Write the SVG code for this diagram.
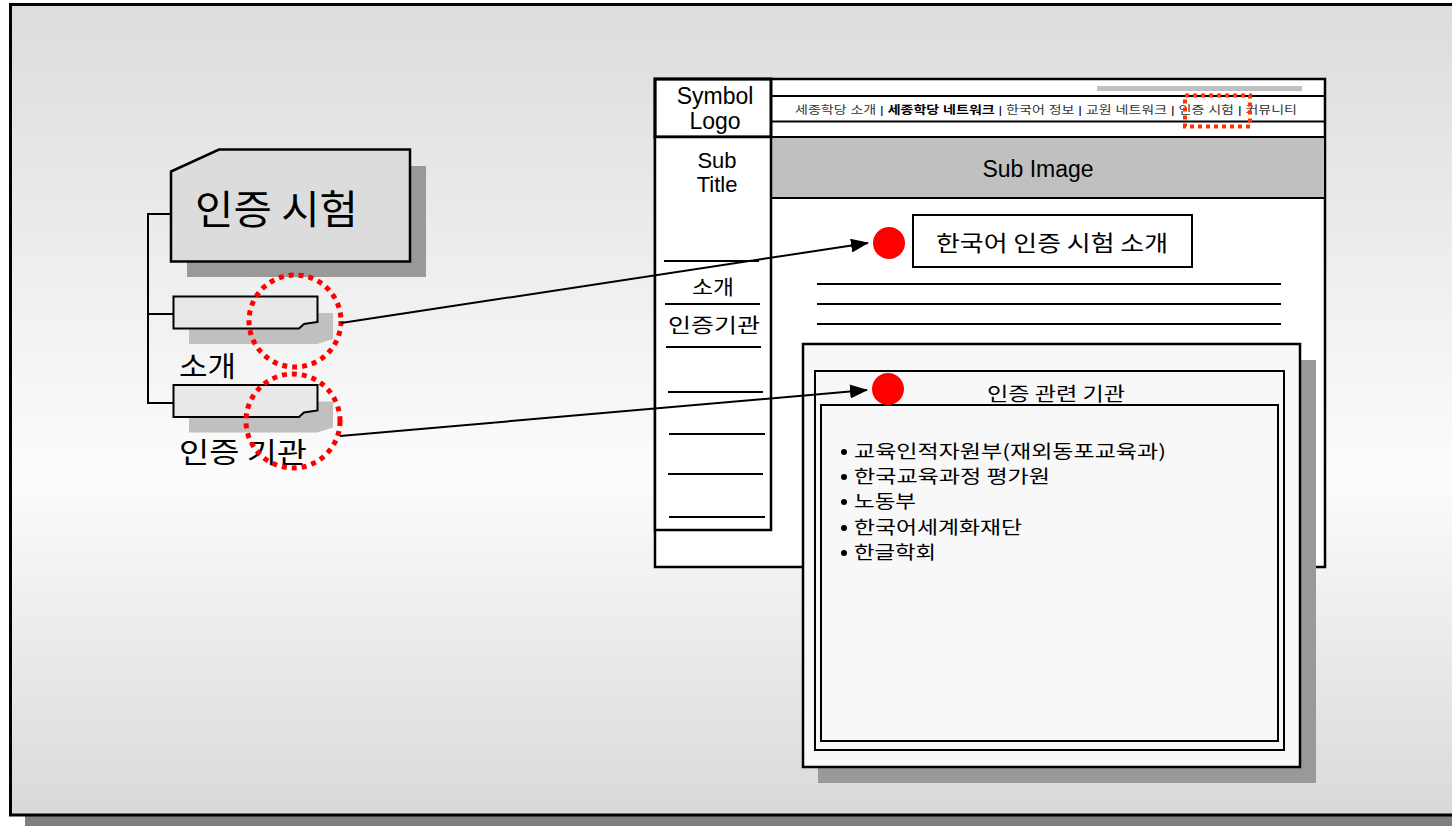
<svg xmlns="http://www.w3.org/2000/svg" width="1452" height="826" viewBox="0 0 1452 826">
<defs>
<linearGradient id="bg" x1="0" y1="4" x2="0" y2="815" gradientUnits="userSpaceOnUse">
<stop offset="0" stop-color="#dcdcdc"/>
<stop offset="0.58" stop-color="#fcfcfc"/>
<stop offset="1" stop-color="#d9d9d9"/>
</linearGradient>
<marker id="arr" markerWidth="18" markerHeight="14" refX="17" refY="7" orient="auto" markerUnits="userSpaceOnUse">
<path d="M0,0 L18,7 L0,14 Z" fill="#000"/>
</marker>
<style>
text{font-family:"Liberation Sans","Noto Sans CJK KR",sans-serif;fill:#000}
.k{font-family:"Noto Sans CJK KR","Liberation Sans",sans-serif}
.ln{stroke:#000;stroke-width:2;fill:none}
.box{fill:#fff;stroke:#000;stroke-width:2.5}
.dot{fill:none;stroke:#ff0000;stroke-width:5;stroke-dasharray:5 5}
.rd{fill:#ff0000}
.con{stroke:#000;stroke-width:2;fill:none;marker-end:url(#arr)}
</style>
</defs>
<rect width="1452" height="826" fill="#fff"/>
<g id="frame">
<rect x="25" y="815" width="1440" height="11" fill="#808080"/>
<rect x="10.5" y="4.5" width="1460" height="810.5" fill="url(#bg)" stroke="#000" stroke-width="3"/>
</g>
<g id="tree-lines">
<path class="ln" d="M171,214 H148 V403 H175 M148,314 H175"/>
</g>
<g id="node-root">
<rect x="187" y="166" width="239" height="111" fill="#999"/>
<path d="M171,171.5 L219,149.5 H410 V261.5 H171 Z" fill="#dcdcdc" stroke="#000" stroke-width="2.5"/>
<text class="k" x="195" y="224" font-size="40" textLength="163" lengthAdjust="spacingAndGlyphs">인증 시험</text>
</g>
<g id="node-intro">
<path d="M189,313 H333 V339 L317,344 H189 Z" fill="#c0c0c0"/>
<path d="M173.5,296.5 H317.5 V322 L304,324 L299,328.5 H173.5 Z" fill="#e8e8e8" stroke="#000" stroke-width="2"/>
<text class="k" x="179" y="377" font-size="28" textLength="57" lengthAdjust="spacingAndGlyphs">소개</text>
</g>
<g id="node-org">
<path d="M189,401.5 H333 V427.5 L317,432.5 H189 Z" fill="#c0c0c0"/>
<path d="M173.5,385 H317.5 V410.5 L304,412.5 L299,417 H173.5 Z" fill="#e8e8e8" stroke="#000" stroke-width="2"/>
<text class="k" x="179" y="463" font-size="28" textLength="128" lengthAdjust="spacingAndGlyphs">인증 기관</text>
</g>
<g id="highlights">
<circle class="dot" cx="295" cy="321" r="46"/>
<circle class="dot" cx="293" cy="421" r="47"/>
</g>
<g id="mockup">
<rect x="655" y="79" width="670" height="488" fill="#fff" stroke="#000" stroke-width="2.5"/>
<rect x="1097" y="86" width="205" height="5" fill="#c0c0c0"/>
<path class="ln" d="M771,96 H1325"/>
<path class="ln" d="M771,121.5 H1325" stroke-width="2.5"/>
<text x="795" y="114" font-size="11.5" fill="#333" textLength="502" lengthAdjust="spacingAndGlyphs"><tspan fill="#333">세종학당 소개 </tspan><tspan>| </tspan><tspan font-weight="bold">세종학당 네트워크</tspan><tspan> | </tspan><tspan fill="#333">한국어 정보 </tspan><tspan>| </tspan><tspan fill="#333">교원 네트워크 </tspan><tspan>| </tspan><tspan fill="#333">인증 시험 </tspan><tspan>| </tspan><tspan fill="#333">커뮤니티</tspan></text>
<rect x="1185" y="95.5" width="65" height="31" fill="none" stroke="#ff3300" stroke-width="4" stroke-dasharray="4 4"/>
<rect x="655" y="79" width="116" height="58" fill="none" stroke="#000" stroke-width="3"/>
<text x="715" y="104" font-size="23" text-anchor="middle">Symbol</text>
<text x="715" y="129" font-size="23" text-anchor="middle">Logo</text>
<rect x="771" y="137" width="554" height="61" fill="#c0c0c0" stroke="#000" stroke-width="2"/>
<text x="1038" y="177" font-size="23" text-anchor="middle">Sub Image</text>
<rect x="655" y="137" width="116" height="393" fill="#fff" stroke="#000" stroke-width="2.5"/>
<text x="717" y="168" font-size="22" text-anchor="middle">Sub</text>
<text x="717" y="192" font-size="22" text-anchor="middle">Title</text>
<path class="ln" d="M664,261 H759 M665,304 H760 M666,347 H761 M668,392 H763 M669,434 H765 M668,474 H763 M669,517 H765"/>
<text class="k" x="692" y="295" font-size="20" textLength="42" lengthAdjust="spacingAndGlyphs">소개</text>
<text class="k" x="668" y="333" font-size="20" textLength="92" lengthAdjust="spacingAndGlyphs">인증기관</text>
<circle class="rd" cx="889" cy="243" r="16"/>
<rect x="913" y="215" width="279" height="52" fill="#fff" stroke="#000" stroke-width="2"/>
<text class="k" x="936" y="251" font-size="22" textLength="232" lengthAdjust="spacingAndGlyphs">한국어 인증 시험 소개</text>
<path class="ln" d="M817,284 H1281 M817,304 H1281 M817,324 H1281"/>
</g>
<g id="popup">
<rect x="818" y="360" width="498" height="423" fill="#999"/>
<rect x="803" y="344" width="497" height="423" fill="#f8f8f8" stroke="#000" stroke-width="2.5"/>
<rect x="815" y="371" width="469" height="379" fill="none" stroke="#000" stroke-width="2"/>
<rect x="821" y="405" width="457" height="336" fill="none" stroke="#000" stroke-width="2"/>
<circle class="rd" cx="888" cy="389" r="16"/>
<text class="k" x="987" y="401" font-size="19" textLength="138" lengthAdjust="spacingAndGlyphs">인증 관련 기관</text>
<g fill="#000">
<circle cx="844" cy="452" r="3"/>
<circle cx="844" cy="477" r="3"/>
<circle cx="844" cy="502" r="3"/>
<circle cx="844" cy="528" r="3"/>
<circle cx="844" cy="553" r="3"/>
</g>
<text class="k" x="854" y="458" font-size="18" textLength="312" lengthAdjust="spacingAndGlyphs">교육인적자원부(재외동포교육과)</text>
<text class="k" x="854" y="483" font-size="18" textLength="196" lengthAdjust="spacingAndGlyphs">한국교육과정 평가원</text>
<text class="k" x="854" y="508" font-size="18" textLength="62" lengthAdjust="spacingAndGlyphs">노동부</text>
<text class="k" x="854" y="534" font-size="18" textLength="168" lengthAdjust="spacingAndGlyphs">한국어세계화재단</text>
<text class="k" x="854" y="559" font-size="18" textLength="82" lengthAdjust="spacingAndGlyphs">한글학회</text>
</g>
<g id="connectors">
<path class="con" d="M341,323 L868,243"/>
<path class="con" d="M340,436 L867,390"/>
</g>
</svg>
